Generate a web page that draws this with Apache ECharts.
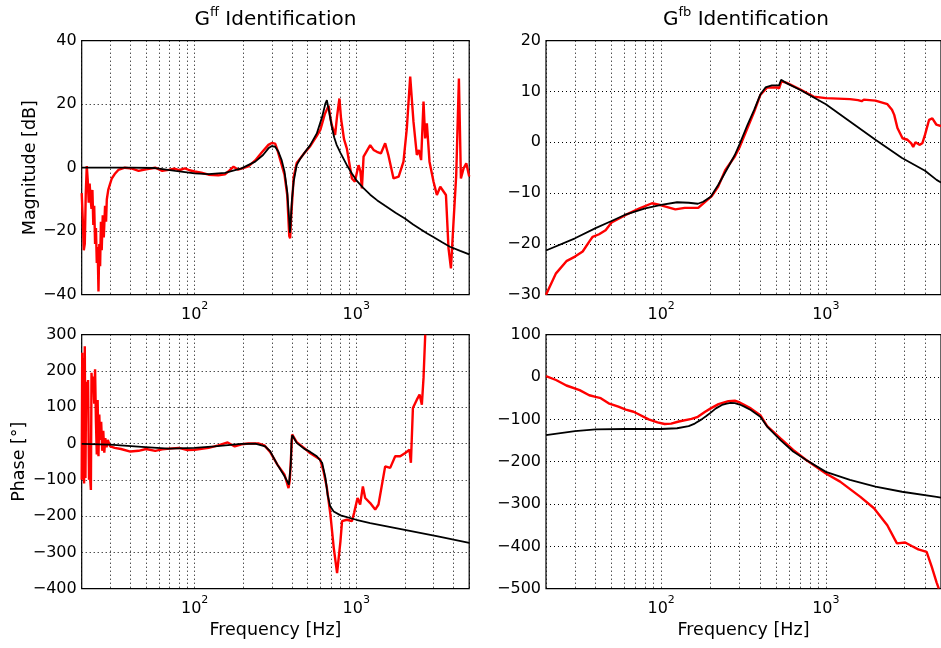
<!DOCTYPE html>
<html><head><meta charset="utf-8">
<script src="https://cdn.jsdelivr.net/npm/echarts@6/dist/echarts.min.js"></script>
<style>html,body{margin:0;padding:0;background:#fff}#c{width:941px;height:648px}</style>
</head><body><div id="c"></div>
<script>
// ---- axes ----
const freqGrid = [20,30,40,50,60,70,80,90,100,200,300,400,500,600,700,800,900,1000,2000,3000,4000,5000];
const freqLabels = [100, 1000];
const freqRange = [20, 5000];
const titles = [['G','ff',' Identification'], ['G','fb',' Identification']];

// ---- G_ff magnitude [dB] (f [Hz], value) ----
const ffMagMeas = [[20,-8],[20.3,-16],[20.6,-26],[20.9,-24],[21.2,-8],[21.5,0.5],[21.8,-4],[22.1,-11],[22.4,-5],[22.7,-10],[23.0,-13],[23.3,-7],[23.6,-18],[23.9,-12],[24.2,-24],[24.5,-19],[24.8,-30],[25.1,-25],[25.4,-39],[25.7,-24],[26.0,-31],[26.3,-17],[26.6,-26],[27.0,-15],[27.4,-22],[27.9,-12],[28.3,-17],[28.6,-10],[29.2,-7],[30,-5],[30.7,-3.4],[32,-2],[33.7,-0.7],[37,0],[41,-0.3],[45,-1],[50,-0.5],[57,0],[63,-1],[69,-0.7],[75,-0.3],[80,-0.8],[87,-0.2],[93,-0.8],[100,-1.2],[110,-1.6],[122,-2.2],[140,-2.4],[154,-2.1],[165,-0.8],[174,0.3],[185,-0.6],[195,-0.3],[215,0.4],[237,2.3],[260,4.8],[286,7.2],[300,7.8],[315,7.6],[325,5.6],[345,1],[360,-2.3],[374,-8.6],[385,-21.5],[390,-22.2],[395,-16],[402,-10],[410,-3],[428,1.5],[450,2.9],[475,4.5],[519,6.8],[570,10],[600,12],[640,17],[675,19.5],[690,16],[706,13.4],[740,10.3],[760,16],[787,21.8],[805,15.5],[840,9],[875,6],[940,-3.4],[980,-4.4],[1000,-4.8],[1033,0.8],[1060,-1],[1084,-6.5],[1110,3.5],[1220,7.1],[1280,5.6],[1342,5],[1420,4.5],[1510,7.7],[1580,4],[1701,-3.4],[1830,-2.8],[1960,1.9],[2056,12.4],[2157,28.7],[2260,14.5],[2371,4],[2440,5.6],[2520,2.4],[2608,20.8],[2670,9.2],[2735,14],[2840,1.9],[3008,-4.4],[3155,-8.6],[3311,-6],[3590,-8.6],[3724,-25.4],[3854,-31.7],[4000,-17],[4156,-2.3],[4318,28.1],[4443,-3.4],[4615,-0.2],[4796,1.4],[5000,-2.8]];
const ffMagFit = [[20,0],[40,0],[57,-0.1],[76,-1],[100,-1.8],[122,-2],[154,-1.6],[195,-0.2],[237,1.9],[265,4],[286,6.1],[300,6.8],[315,6.6],[330,5],[345,2.5],[360,-1.3],[374,-7.6],[383,-15],[389,-20.5],[393,-17],[400,-10],[410,-4.4],[428,0.8],[450,2.8],[475,4.5],[519,7.1],[570,10.8],[615,16],[645,20.3],[658,21.3],[668,19.5],[680,17.6],[706,12.9],[730,9.6],[755,7.3],[800,4.6],[875,0.8],[940,-1.8],[1000,-3.9],[1100,-6.3],[1220,-8.5],[1350,-10.3],[1510,-12],[1750,-14.2],[2000,-16],[2250,-17.9],[2500,-19.4],[2750,-20.7],[3000,-21.8],[3400,-23.5],[3800,-24.9],[4400,-26.2],[5000,-27.3]];

// ---- G_ff phase [deg] ----
const ffPhMeas = [[20,-100],[20.15,250],[20.3,-90],[20.5,235],[20.7,-110],[20.9,268],[21.1,-95],[21.3,170],[21.6,115],[21.9,175],[22.2,-100],[22.5,-88],[22.8,-128],[23.0,195],[23.3,150],[23.6,185],[23.9,110],[24.2,205],[24.5,60],[24.8,-30],[25.1,120],[25.4,-35],[25.7,80],[26.0,10],[26.4,60],[26.8,-20],[27.2,35],[27.6,-25],[28.0,15],[28.5,-10],[29,10],[30,-8],[32,-12],[35,-15],[40,-22],[45,-20],[50,-15],[57,-20],[63,-16],[70,-14],[80,-12],[90,-18],[100,-17],[122,-12],[140,-5],[160,3],[177,-8],[195,-2],[215,0],[250,0],[270,-5],[293,-23],[325,-58],[360,-86],[381,-123],[388,-100],[393.6,-49],[401,25],[428,4],[475,-12],[517,-26],[598,-44],[627,-76],[658,-122],[692,-196],[726,-288],[761,-357],[798,-270],[817,-214],[875,-210],[940,-214],[970,-191],[1018,-150],[1057,-168],[1099,-118],[1136,-150],[1220,-164],[1310,-182],[1373,-168],[1510,-63],[1622,-67],[1742,-35],[1871,-35],[2009,-26],[2135,-17],[2179,-53],[2242,98],[2371,121],[2465,135],[2547,107],[2608,181],[2672,300]];
const ffPhFit = [[20,-1],[30,-3],[47,-9],[69,-14],[100,-12],[133,-8],[195,-1],[237,0],[273,-8],[293,-21],[325,-58],[360,-90],[383,-113],[388,-116],[393,-60],[398,10],[402,23],[428,2],[475,-14],[519,-23],[570,-35],[615,-53],[645,-95],[665,-141],[690,-173],[725,-187],[800,-198],[1000,-210],[1220,-219],[1960,-237],[3200,-256],[5000,-274]];

// ---- G_fb magnitude [dB] ----
const fbMagMeas = [[20,-30],[23,-25.8],[26.6,-23.4],[30,-22.5],[33.4,-21.5],[36.7,-19.5],[38.4,-18.6],[42,-18.1],[46,-17.3],[50,-15.8],[61,-14.3],[74,-13],[88,-12],[100,-12.4],[122,-13.2],[139,-12.9],[168,-12.9],[185,-11.7],[203,-10.6],[222,-8.7],[245,-5.5],[280,-2.8],[300,-0.9],[367,6],[400,9.3],[440,10.8],[505,10.8],[520,10.6],[537,12],[580,11.7],[700,10.4],[842,9],[1000,8.7],[1400,8.5],[1568,8.3],[1650,8.1],[1700,8.4],[2000,8.2],[2364,7.5],[2520,6.4],[2600,5.4],[2720,2.8],[2920,0.8],[3130,0.5],[3300,-0.2],[3390,-0.9],[3500,0],[3590,0.3],[3700,-0.5],[3850,-0.2],[4000,1.5],[4230,4.4],[4430,4.7],[4680,3.5],[5000,3.2]];
const fbMagFit = [[20,-21.3],[30,-18.9],[40,-16.9],[50,-15.5],[60,-14.3],[80,-13],[100,-12.3],[125,-11.8],[147,-11.9],[167,-12.1],[180,-11.7],[200,-10.7],[222,-8.4],[250,-5.4],[280,-2.5],[300,-0.3],[334,3.4],[367,6.4],[400,9.4],[430,10.8],[470,11.2],[520,11.2],[535,12.3],[580,11.6],[700,10.3],[1000,7.5],[1400,4.1],[2000,0.5],[2900,-3.1],[4000,-5.6],[4700,-7.4],[5000,-7.9]];

// ---- G_fb phase [deg] ----
const fbPhMeas = [[20,2],[23,-7],[26.6,-20],[32,-31],[36.6,-43],[40,-47],[43,-50],[48,-62],[55,-70],[61,-77],[68,-82],[74,-89],[84,-100],[95,-107],[105,-111],[115,-110],[128,-105],[153,-99],[167,-94],[185,-82],[200,-74],[223,-64],[256,-57],[280,-56],[300,-60],[350,-74],[400,-90],[440,-116],[530,-145],[633,-172],[760,-196],[1000,-228],[1220,-247],[1620,-283],[1960,-310],[2360,-350],[2700,-393],[3030,-391],[3320,-399],[3640,-407],[4090,-413],[4390,-448],[4700,-485],[4850,-500]];
const fbPhFit = [[20,-137],[30,-127.6],[40,-123.6],[60,-122.8],[100,-122.8],[125,-121],[147,-116],[160,-110],[176,-100],[188,-92],[200,-84],[215,-74],[234,-66],[250,-63],[264,-61],[280,-61.5],[300,-65],[320,-70],[350,-78],[400,-93.7],[440,-117],[530,-149],[633,-176],[760,-196],[1000,-224],[1400,-243],[2000,-259],[2900,-271],[4700,-283],[5000,-285]];

const yRanges = [[-40,40,20],[-30,20,10],[-400,300,100],[-500,100,100]];
const yNames = ['Magnitude [dB]','','Phase [°]',''];

const FONT = 'DejaVu Sans';
const grids = [
  {left:81.7, top:40.7, width:387.5, height:254},
  {left:546, top:40.7, width:399.8, height:254},
  {left:81.7, top:334.7, width:387.5, height:254},
  {left:546, top:334.7, width:399.8, height:254}
];
const dotted = {color:'#000', type:[1,3], width:1};
const lg = Math.log10;

// x axes: value axes over log10(frequency)
const xAxes = grids.map((g,i)=>({
  type:'value', gridIndex:i, min:lg(freqRange[0]), max:lg(freqRange[1]),
  axisLine:{show:false},
  axisTick:{show:false, customValues:freqGrid.map(lg)},
  splitLine:{show:true, lineStyle:dotted},
  axisLabel:{
    customValues:freqLabels.map(lg), margin:6,
    formatter:v=>'{b|10}{s|'+Math.round(v)+'}',
    rich:{
      b:{fontFamily:FONT, fontSize:16, color:'#000', verticalAlign:'bottom', lineHeight:22},
      s:{fontFamily:FONT, fontSize:11, color:'#000', verticalAlign:'top', lineHeight:11}
    }
  },
  name: i>=2 ? 'Frequency [Hz]' : '',
  nameLocation:'middle', nameGap:33,
  nameTextStyle:{fontFamily:FONT, fontSize:17.5, color:'#000'}
}));

const yAxes = grids.map((g,i)=>({
  type:'value', gridIndex:i, min:yRanges[i][0], max:yRanges[i][1], interval:yRanges[i][2],
  axisLine:{show:false}, axisTick:{show:false},
  splitLine:{show:true, lineStyle:dotted},
  axisLabel:{margin:5, fontFamily:FONT, fontSize:16, color:'#000',
    formatter:v=>String(v).replace('-','\u2212')},
  name:yNames[i], nameLocation:'middle', nameGap: i===0 ? 41 : 52,
  nameTextStyle:{fontFamily:FONT, fontSize:17.5, color:'#000'}
}));

const mk = (data, idx, color, w, z) => ({
  type:'line', data:data.map(p=>[lg(p[0]), p[1]]), xAxisIndex:idx, yAxisIndex:idx,
  showSymbol:false, symbol:'none',
  lineStyle:{color:color, width:w}, z:z, silent:true, animation:false
});

const titleRich = {
  a:{fontFamily:FONT, fontSize:20, fontWeight:'normal', color:'#000', verticalAlign:'bottom', lineHeight:24},
  s:{fontFamily:FONT, fontSize:13, fontWeight:'normal', color:'#000', verticalAlign:'top', lineHeight:13}
};

const option = {
  animation:false,
  backgroundColor:'#fff',
  title: titles.map((t,i)=>({
    text:'{a|'+t[0]+'}{s|'+t[1]+'}{a|'+t[2]+'}',
    left: grids[i].left + grids[i].width/2, top:6, padding:0, textAlign:'center',
    textStyle:{fontWeight:'normal', fontFamily:FONT, rich:titleRich}
  })),
  grid: grids.map(g=>Object.assign({show:true, borderColor:'#000', borderWidth:1.2, backgroundColor:'rgba(0,0,0,0)', containLabel:false}, g)),
  xAxis:xAxes, yAxis:yAxes,
  series:[
    mk(ffMagMeas,0,'#ff0000',2.4,2), mk(ffMagFit,0,'#000',1.8,3),
    mk(fbMagMeas,1,'#ff0000',2.4,2), mk(fbMagFit,1,'#000',1.8,3),
    mk(ffPhMeas,2,'#ff0000',2.4,2), mk(ffPhFit,2,'#000',1.8,3),
    mk(fbPhMeas,3,'#ff0000',2.4,2), mk(fbPhFit,3,'#000',1.8,3)
  ]
};
const chart = echarts.init(document.getElementById('c'), null, {renderer:'canvas'});
chart.setOption(option);
</script></body></html>
